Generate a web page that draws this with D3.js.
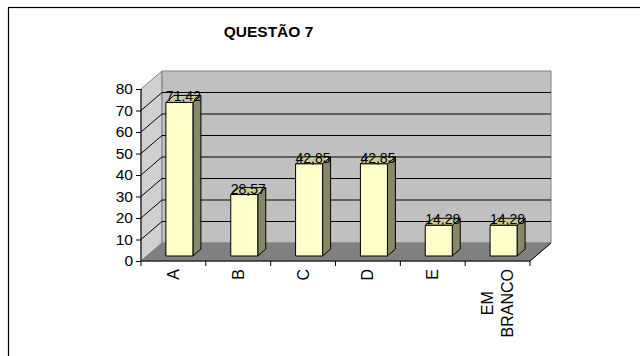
<!DOCTYPE html>
<html>
<head>
<meta charset="utf-8">
<script src="https://cdn.jsdelivr.net/npm/d3@7"></script>
<style>
  html, body { margin: 0; padding: 0; background: #fff; }
  svg { display: block; font-family: "Liberation Sans", Arial, sans-serif; }
</style>
</head>
<body>
<svg id="chart" width="640" height="356"></svg>
<script>
const title = "QUESTÃO 7";
const categories = ["A", "B", "C", "D", "E", "EM BRANCO"];
const values = [71.42, 28.57, 42.85, 42.85, 14.28, 14.28];
const valueLabels = ["71,42", "28,57", "42,85", "42,85", "14,28", "14,28"];
const yTicks = [0, 10, 20, 30, 40, 50, 60, 70, 80];

const svg = d3.select("#chart");

// outer frame (extends beyond viewport on right/bottom)
svg.append("rect").attr("x", 8.5).attr("y", 7.5).attr("width", 700).attr("height", 400)
  .attr("fill", "none").attr("stroke", "#000").attr("stroke-width", 1.2);

svg.append("text").attr("x", 268.5).attr("y", 37).attr("text-anchor", "middle")
  .attr("font-weight", "bold").attr("font-size", 15.5).text(title);

const x = d3.scaleBand().domain(categories).range([141, 530]).padding(0);
const y = d3.scaleLinear().domain([0, 80]).range([261, 89]);
const DX = 21, DY = -18;          // wall depth
const BX = 6, BY = -5;            // bar offset into depth
const bdx = 8, bdy = -7;          // bar depth
const bw = 27;

const x0 = x.range()[0], x1 = x.range()[1];
const line = d3.line();
const poly = pts => "M" + pts.map(p => p.join(",")).join("L") + "Z";

// side wall
svg.append("path").attr("d", poly([[x0, y(0)], [x0, y(80)], [x0 + DX, y(80) + DY], [x0 + DX, y(0) + DY]]))
  .attr("fill", "#d0d0d0").attr("stroke", "#808080");
// back wall
svg.append("path").attr("d", poly([[x0 + DX, y(80) + DY], [x1 + DX, y(80) + DY], [x1 + DX, y(0) + DY], [x0 + DX, y(0) + DY]]))
  .attr("fill", "#c0c0c0").attr("stroke", "#808080");
// floor
svg.append("path").attr("d", poly([[x0, y(0)], [x1, y(0)], [x1 + DX, y(0) + DY], [x0 + DX, y(0) + DY]]))
  .attr("fill", "#808080").attr("stroke", "#808080");
svg.append("path").attr("d", line([[x1, y(0)], [x1 + DX, y(0) + DY]])).attr("stroke", "#000").attr("fill", "none");

// gridlines
const grid = yTicks.filter(v => v > 0 && v < 80);
svg.append("g").selectAll("path").data(grid).join("path")
  .attr("d", v => line([[x0, y(v)], [x0 + DX, y(v) + DY], [x1 + DX, y(v) + DY]]))
  .attr("fill", "none").attr("stroke", "#000").attr("stroke-width", 1);

// axes
const yAxis = svg.append("g").attr("transform", `translate(${x0},0)`)
  .call(d3.axisLeft(y).tickValues(yTicks).tickSize(5).tickPadding(3).tickFormat(d3.format("d")));
yAxis.selectAll("text").attr("font-size", 15.5).attr("font-family", "Liberation Sans, Arial, sans-serif").attr("fill", "#000");
yAxis.selectAll("line").attr("stroke", "#000");
yAxis.select(".domain").attr("stroke", "#000").attr("d", `M0,${y(80)}V${y(0)}`);

const xg = svg.append("g");
xg.append("path").attr("d", line([[x0, y(0)], [x1, y(0)]])).attr("stroke", "#000");
const bounds = categories.map(c => x(c)).concat([x1]);
xg.selectAll("line.t").data(bounds).join("line").attr("class", "t")
  .attr("x1", d => d).attr("x2", d => d).attr("y1", y(0)).attr("y2", y(0) + 5).attr("stroke", "#000");

// bars
const bars = svg.append("g").selectAll("g").data(categories).join("g");
bars.each(function (c, i) {
  const g = d3.select(this);
  const cx = x(c) + x.bandwidth() / 2 + BX;
  const l = cx - bw / 2, r = cx + bw / 2;
  const b = y(0) + BY, t = y(values[i]) + BY;
  g.append("path").attr("d", poly([[r, t], [r + bdx, t + bdy], [r + bdx, b + bdy], [r, b]]))
    .attr("fill", "#87876a").attr("stroke", "#000");
  g.append("path").attr("d", poly([[l, t], [l + bdx, t + bdy], [r + bdx, t + bdy], [r, t]]))
    .attr("fill", "#cccc99").attr("stroke", "#000");
  g.append("path").attr("d", poly([[l, t], [r, t], [r, b], [l, b]]))
    .attr("fill", "#ffffcc").attr("stroke", "#000");
  g.append("text").attr("x", cx + bdx / 2).attr("y", t - 1).attr("text-anchor", "middle")
    .attr("font-size", 14).text(valueLabels[i]);
});

// category labels (rotated)
const fs = 16, lh = 20;
categories.forEach(c => {
  const lines = c.split(" ");
  const cx = x(c) + x.bandwidth() / 2;
  const g = svg.append("g");
  const texts = lines.map((s, j) => {
    const bx = cx + 5.5 + (j - (lines.length - 1) / 2) * lh;
    return g.append("text").attr("font-size", fs).text(s).attr("data-bx", bx);
  });
  const lens = texts.map(t => t.node().getComputedTextLength());
  const maxL = d3.max(lens);
  const mid = y(0) + 8 + maxL / 2;
  texts.forEach(t => {
    const bx = +t.attr("data-bx");
    t.attr("text-anchor", "middle").attr("transform", `translate(${bx},${mid}) rotate(-90)`);
  });
});
</script>
</body>
</html>
